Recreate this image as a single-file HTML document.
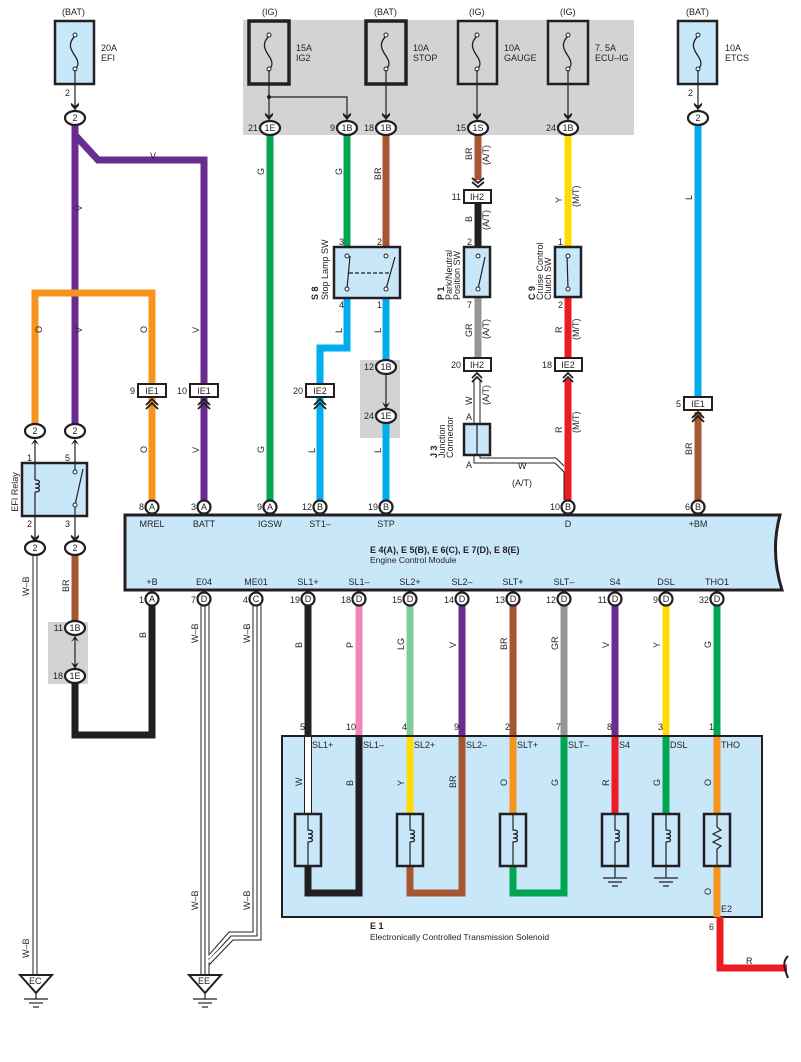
<!DOCTYPE html>
<html><head><meta charset="utf-8"><style>
html,body{margin:0;padding:0;background:#fff}
svg{display:block}
text{font-family:"Liberation Sans",sans-serif;font-size:9px;fill:#231f20}
.s{font-size:8.5px}
</style></head><body>
<svg width="801" height="1062" viewBox="0 0 801 1062" xmlns="http://www.w3.org/2000/svg">
<defs>
<marker id="ar" viewBox="0 0 10 10" refX="10" refY="5" markerWidth="8" markerHeight="8" markerUnits="userSpaceOnUse" orient="auto"><path d="M1,0 L5,5 L1,10 L4,10 L10,5 L4,0Z" fill="#231f20"/></marker>
</defs>
<rect x="243" y="20" width="391" height="115" fill="#d1d3d4"/>
<rect x="360" y="360" width="40" height="78" fill="#d1d3d4"/>
<rect x="48" y="622" width="40" height="62" fill="#d1d3d4"/>

<g stroke="#231f20" stroke-width="2.5">
<rect x="55" y="21" width="39" height="63" fill="#c8e8fa"/>
<rect x="249" y="21" width="40" height="63" fill="#d1d3d4" stroke-width="3.5"/>
<rect x="366" y="21" width="40" height="63" fill="#d1d3d4" stroke-width="3.5"/>
<rect x="458" y="21" width="39" height="63" fill="#d1d3d4"/>
<rect x="548" y="21" width="40" height="63" fill="#d1d3d4"/>
<rect x="678" y="21" width="39" height="63" fill="#c8e8fa"/>
</g>
<g fill="none" stroke="#231f20" stroke-width="1.3">
<path d="M75,36 c-8,8 -4,14 0,20 c4,6 4,10 0,13"/>
<path d="M269,36 c-8,8 -4,14 0,20 c4,6 4,10 0,13"/>
<path d="M386,36 c-8,8 -4,14 0,20 c4,6 4,10 0,13"/>
<path d="M477,36 c-8,8 -4,14 0,20 c4,6 4,10 0,13"/>
<path d="M568,36 c-8,8 -4,14 0,20 c4,6 4,10 0,13"/>
<path d="M698,36 c-8,8 -4,14 0,20 c4,6 4,10 0,13"/>
</g>
<g fill="#fff" stroke="#231f20" stroke-width="1">
<circle cx="75" cy="35" r="2"/><circle cx="75" cy="69" r="2"/>
<circle cx="269" cy="35" r="2"/><circle cx="269" cy="69" r="2"/>
<circle cx="386" cy="35" r="2"/><circle cx="386" cy="69" r="2"/>
<circle cx="477" cy="35" r="2"/><circle cx="477" cy="69" r="2"/>
<circle cx="568" cy="35" r="2"/><circle cx="568" cy="69" r="2"/>
<circle cx="698" cy="35" r="2"/><circle cx="698" cy="69" r="2"/>
</g>
<text x="62" y="15">(BAT)</text><text x="262" y="15">(IG)</text><text x="374" y="15">(BAT)</text>
<text x="469" y="15">(IG)</text><text x="560" y="15">(IG)</text><text x="686" y="15">(BAT)</text>
<text x="101" y="51">20A</text><text x="101" y="61">EFI</text>
<text x="296" y="51">15A</text><text x="296" y="61">IG2</text>
<text x="413" y="51">10A</text><text x="413" y="61">STOP</text>
<text x="504" y="51">10A</text><text x="504" y="61">GAUGE</text>
<text x="595" y="51">7. 5A</text><text x="595" y="61">ECU–IG</text>
<text x="725" y="51">10A</text><text x="725" y="61">ETCS</text>

<g stroke="#231f20" stroke-width="1.2" fill="none">
<line x1="75" y1="70" x2="75" y2="110" marker-end="url(#ar)"/>
<line x1="269" y1="70" x2="269" y2="120" marker-end="url(#ar)"/>
<polyline points="269,97 347,97 347,120" marker-end="url(#ar)"/>
<line x1="386" y1="70" x2="386" y2="120" marker-end="url(#ar)"/>
<line x1="477" y1="70" x2="477" y2="120" marker-end="url(#ar)"/>
<line x1="568" y1="70" x2="568" y2="120" marker-end="url(#ar)"/>
<line x1="698" y1="70" x2="698" y2="110" marker-end="url(#ar)"/>
</g>
<circle cx="269" cy="97" r="2" fill="#231f20"/>
<text x="65" y="96">2</text><text x="688" y="96">2</text>

<g fill="none" stroke-width="7" stroke-linejoin="miter">
<polyline stroke="#6b2c91" points="75,121 75,425"/>
<polyline stroke="#6b2c91" points="75,135 98,160 204,160 204,392"/>
<polyline stroke="#6b2c91" points="204,398 204,502"/>
<polyline stroke="#f7941d" points="35,425 35,293 152,293 152,384"/>
<polyline stroke="#f7941d" points="152,398 152,502"/>
<line stroke="#00a650" x1="270" y1="134" x2="270" y2="502"/>
<line stroke="#00a650" x1="347" y1="134" x2="347" y2="249"/>
<line stroke="#a65732" x1="386" y1="134" x2="386" y2="249"/>
<polyline stroke="#00aeef" points="347,298 347,348 320,348 320,384"/>
<line stroke="#00aeef" x1="320" y1="398" x2="320" y2="502"/>
<line stroke="#00aeef" x1="386" y1="298" x2="386" y2="361"/>
<line stroke="#00aeef" x1="386" y1="421" x2="386" y2="502"/>
<line stroke="#a65732" x1="478" y1="134" x2="478" y2="180"/>
<line stroke="#231f20" x1="478" y1="203" x2="478" y2="249"/>
<line stroke="#939598" x1="478" y1="297" x2="478" y2="358"/>
<line stroke="#ffdd00" x1="568" y1="134" x2="568" y2="249"/>
<line stroke="#ed1c24" x1="568" y1="297" x2="568" y2="358"/>
<line stroke="#ed1c24" x1="568" y1="379" x2="568" y2="502"/>
<line stroke="#00aeef" x1="698" y1="121" x2="698" y2="397"/>
<line stroke="#a65732" x1="698" y1="412" x2="698" y2="502"/>
<line stroke="#a65732" x1="75" y1="552" x2="75" y2="622"/>
<polyline stroke="#231f20" points="75,682 75,735 152,735 152,604"/>
<line stroke="#231f20" x1="308" y1="604" x2="308" y2="736"/>
<line stroke="#f287b7" x1="359" y1="604" x2="359" y2="736"/>
<line stroke="#80cc9c" x1="410" y1="604" x2="410" y2="736"/>
<line stroke="#6b2c91" x1="462" y1="604" x2="462" y2="736"/>
<line stroke="#a65732" x1="513" y1="604" x2="513" y2="736"/>
<line stroke="#939598" x1="564" y1="604" x2="564" y2="736"/>
<line stroke="#6b2c91" x1="615" y1="604" x2="615" y2="736"/>
<line stroke="#ffdd00" x1="666" y1="604" x2="666" y2="736"/>
<line stroke="#00a650" x1="717" y1="604" x2="717" y2="736"/>
</g>

<g fill="none" stroke="#231f20" stroke-width="1">
<line x1="33" y1="552" x2="33" y2="975"/><line x1="37" y1="552" x2="37" y2="975"/>
<line x1="201" y1="604" x2="201" y2="975"/><line x1="205" y1="604" x2="205" y2="975"/><line x1="209" y1="604" x2="209" y2="975"/>
<polyline points="253,604 253,932 229,932 209,955"/>
<polyline points="257,604 257,936 231,936 209,960"/>
<polyline points="261,604 261,940 233,940 209,965"/>
</g>
<g stroke="#fff" stroke-width="2" fill="none">
<line x1="35" y1="552" x2="35" y2="975"/>
<line x1="203" y1="604" x2="203" y2="975"/><line x1="207" y1="604" x2="207" y2="975"/>
<polyline points="255,604 255,934 230,934 208,958"/>
<polyline points="259,604 259,938 232,938 208,962"/>
</g>
<g stroke="#231f20" stroke-width="2" fill="#fff">
<path d="M20,975 L52,975 L36,993Z"/>
<path d="M189,975 L221,975 L205,993Z"/>
</g>
<g stroke="#231f20" stroke-width="1.2">
<line x1="36" y1="993" x2="36" y2="999"/><line x1="24" y1="999" x2="48" y2="999"/><line x1="29" y1="1003" x2="43" y2="1003"/><line x1="33" y1="1007" x2="39" y2="1007"/>
<line x1="205" y1="993" x2="205" y2="999"/><line x1="193" y1="999" x2="217" y2="999"/><line x1="198" y1="1003" x2="212" y2="1003"/><line x1="202" y1="1007" x2="208" y2="1007"/>
</g>
<text x="29" y="984">EC</text><text x="198" y="984">EE</text>

<rect x="22" y="463" width="65" height="53" fill="#c8e8fa" stroke="#231f20" stroke-width="2.5"/>
<g stroke="#231f20" stroke-width="1.2" fill="none">
<line x1="35" y1="440" x2="35" y2="463"/><line x1="75" y1="440" x2="75" y2="470"/>
<line x1="35" y1="516" x2="35" y2="542" marker-end="url(#ar)"/><line x1="75" y1="507" x2="75" y2="542" marker-end="url(#ar)"/>
<line x1="35" y1="463" x2="35" y2="480"/><path d="M35,480 c6,0 6,4 0,4 c6,0 6,4 0,4 c6,0 6,4 0,4"/><line x1="35" y1="492" x2="35" y2="516"/>
<line x1="75" y1="505" x2="83" y2="469"/>
</g>
<path d="M31,445 L35,439 L39,445 L35,442Z M71,445 L75,439 L79,445 L75,442Z" fill="#231f20"/>
<circle cx="75" cy="472" r="2" fill="#fff" stroke="#231f20"/><circle cx="75" cy="505" r="2" fill="#fff" stroke="#231f20"/>
<text x="27" y="461">1</text><text x="65" y="461">5</text><text x="27" y="527">2</text><text x="65" y="527">3</text>
<text transform="translate(18,492) rotate(-90)" text-anchor="middle">EFI Relay</text>

<g stroke="#231f20" stroke-width="1.2"><line x1="75" y1="634" x2="75" y2="670"/></g>
<path d="M71,642 L75,636 L79,642 L75,639Z M71,662 L75,669 L79,662 L75,665Z" fill="#231f20"/>
<path d="M382,374 L386,368 L390,374 L386,371Z M382,402 L386,409 L390,402 L386,405Z" fill="#231f20"/>
<line x1="386" y1="370" x2="386" y2="408" stroke="#231f20" stroke-width="1.2"/>

<g fill="#fff" stroke="#231f20" stroke-width="2.2">
<ellipse cx="75" cy="118" rx="10" ry="7"/>
<ellipse cx="698" cy="118" rx="10" ry="7"/>
<ellipse cx="270" cy="128" rx="10" ry="7"/>
<ellipse cx="347" cy="128" rx="10" ry="7"/>
<ellipse cx="386" cy="128" rx="10" ry="7"/>
<ellipse cx="478" cy="128" rx="10" ry="7"/>
<ellipse cx="568" cy="128" rx="10" ry="7"/>
<ellipse cx="386" cy="367" rx="10" ry="7"/>
<ellipse cx="386" cy="416" rx="10" ry="7"/>
<ellipse cx="35" cy="431" rx="10" ry="7"/>
<ellipse cx="75" cy="431" rx="10" ry="7"/>
<ellipse cx="35" cy="548" rx="10" ry="7"/>
<ellipse cx="75" cy="548" rx="10" ry="7"/>
<ellipse cx="75" cy="628" rx="10" ry="7"/>
<ellipse cx="75" cy="676" rx="10" ry="7"/>
</g>
<g text-anchor="middle" class="s">
<text x="75" y="121">2</text><text x="698" y="121">2</text>
<text x="270" y="131">1E</text><text x="347" y="131">1B</text><text x="386" y="131">1B</text>
<text x="478" y="131">1S</text><text x="568" y="131">1B</text>
<text x="386" y="370">1B</text><text x="386" y="419">1E</text>
<text x="35" y="434">2</text><text x="75" y="434">2</text><text x="35" y="551">2</text><text x="75" y="551">2</text>
<text x="75" y="631">1B</text><text x="75" y="679">1E</text>
</g>
<g text-anchor="end" class="s">
<text x="258" y="131">21</text><text x="335" y="131">9</text><text x="374" y="131">18</text>
<text x="466" y="131">15</text><text x="556" y="131">24</text>
<text x="374" y="370">12</text><text x="374" y="419">24</text>
<text x="63" y="631">11</text><text x="63" y="679">18</text>
</g>

<g fill="#c8e8fa" stroke="#231f20" stroke-width="2.5">
<rect x="334" y="247" width="66" height="51"/>
<rect x="464" y="247" width="26" height="50"/>
<rect x="555" y="247" width="26" height="50"/>
<rect x="464" y="424" width="26" height="31"/>
</g>
<g stroke="#231f20" stroke-width="1.2" fill="none">
<line x1="347" y1="289" x2="350" y2="256"/><line x1="386" y1="289" x2="395" y2="257"/>
<line x1="349" y1="273" x2="391" y2="273" stroke-dasharray="4,2"/>
<line x1="478" y1="289" x2="485" y2="257"/>
<line x1="568" y1="289" x2="567" y2="254"/>
<line x1="477" y1="424" x2="477" y2="455"/>
</g>
<g fill="#fff" stroke="#231f20" stroke-width="1">
<circle cx="347" cy="256" r="2"/><circle cx="347" cy="289" r="2"/><circle cx="386" cy="256" r="2"/><circle cx="386" cy="289" r="2"/>
<circle cx="478" cy="256" r="2"/><circle cx="478" cy="289" r="2"/>
<circle cx="568" cy="256" r="2"/><circle cx="568" cy="289" r="2"/>
</g>
<text x="339" y="245">3</text><text x="377" y="245">2</text><text x="339" y="308">4</text><text x="377" y="308">1</text>
<text x="467" y="245">2</text><text x="467" y="308">7</text><text x="558" y="245">1</text><text x="558" y="308">2</text>
<text transform="translate(318,300) rotate(-90)" font-weight="bold">S 8</text>
<text transform="translate(328,300) rotate(-90)">Stop Lamp SW</text>
<text transform="translate(444,300) rotate(-90)" font-weight="bold">P 1</text>
<text transform="translate(452,300) rotate(-90)">Park/Neutral</text>
<text transform="translate(460,300) rotate(-90)">Position SW</text>
<text transform="translate(535,300) rotate(-90)" font-weight="bold">C 9</text>
<text transform="translate(543,300) rotate(-90)">Cruise Control</text>
<text transform="translate(551,300) rotate(-90)">Clutch SW</text>
<text transform="translate(437,458) rotate(-90)" font-weight="bold">J 3</text>
<text transform="translate(445,458) rotate(-90)">Junction</text>
<text transform="translate(453,458) rotate(-90)">Connector</text>
<text x="466" y="420">A</text><text x="466" y="468">A</text>

<g fill="none" stroke="#231f20" stroke-width="1">
<polyline points="474,381 474,424"/><polyline points="480,381 480,424"/>
<polyline points="474,455 474,463 555,463 564,472 564,500"/>
<polyline points="480,455 480,458 556,458 564,466"/>
</g>
<text x="518" y="469">W</text><text x="512" y="486">(A/T)</text>

<g fill="#fff" stroke="#231f20" stroke-width="2">
<rect x="138" y="384" width="28" height="13"/><rect x="190" y="384" width="28" height="13"/>
<rect x="306" y="384" width="28" height="13"/>
<rect x="464" y="190" width="27" height="13"/><rect x="464" y="358" width="27" height="13"/>
<rect x="555" y="358" width="27" height="13"/><rect x="684" y="397" width="28" height="13"/>
</g>
<g text-anchor="middle" class="s">
<text x="152" y="394">IE1</text><text x="204" y="394">IE1</text><text x="320" y="394">IE2</text>
<text x="477" y="200">IH2</text><text x="477" y="368">IH2</text><text x="568" y="368">IE2</text><text x="698" y="407">IE1</text>
</g>
<g text-anchor="end" class="s">
<text x="135" y="394">9</text><text x="187" y="394">10</text><text x="303" y="394">20</text>
<text x="461" y="200">11</text><text x="461" y="368">20</text><text x="552" y="368">18</text><text x="681" y="407">5</text>
</g>
<g fill="none" stroke="#231f20" stroke-width="1.8">
<path d="M146,405 L152,399 L158,405 M146,409 L152,403 L158,409"/>
<path d="M198,405 L204,399 L210,405 M198,409 L204,403 L210,409"/>
<path d="M314,405 L320,399 L326,405 M314,409 L320,403 L326,409"/>
<path d="M472,378 L477,373 L482,378 M472,382 L477,377 L482,382"/>
<path d="M563,378 L568,373 L573,378 M563,382 L568,377 L573,382"/>
<path d="M692,418 L698,412 L704,418 M692,422 L698,416 L704,422"/>
<path d="M472,178 L478,183 L484,178 M472,182 L478,187 L484,182"/>
</g>

<path d="M125,515 L780,515 Q770,552 782,590 L125,590Z" fill="#c8e8fa" stroke="#231f20" stroke-width="3"/>
<text x="370" y="553" font-weight="bold">E 4(A), E 5(B), E 6(C), E 7(D), E 8(E)</text>
<text x="370" y="563" class="s">Engine Control Module</text>
<g text-anchor="middle" class="s">
<text x="152" y="527">MREL</text><text x="204" y="527">BATT</text><text x="270" y="527">IGSW</text>
<text x="320" y="527">ST1–</text><text x="386" y="527">STP</text><text x="568" y="527">D</text><text x="698" y="527">+BM</text>
<text x="152" y="585">+B</text><text x="204" y="585">E04</text><text x="256" y="585">ME01</text>
<text x="308" y="585">SL1+</text><text x="359" y="585">SL1–</text><text x="410" y="585">SL2+</text><text x="462" y="585">SL2–</text>
<text x="513" y="585">SLT+</text><text x="564" y="585">SLT–</text><text x="615" y="585">S4</text><text x="666" y="585">DSL</text><text x="717" y="585">THO1</text>
</g>
<g fill="#fff" stroke="#231f20" stroke-width="2.2">
<circle cx="152" cy="507" r="6.5"/><circle cx="204" cy="507" r="6.5"/><circle cx="270" cy="507" r="6.5"/>
<circle cx="320" cy="507" r="6.5"/><circle cx="386" cy="507" r="6.5"/><circle cx="568" cy="507" r="6.5"/><circle cx="698" cy="507" r="6.5"/>
<circle cx="152" cy="599" r="6.5"/><circle cx="204" cy="599" r="6.5"/><circle cx="256" cy="599" r="6.5"/>
<circle cx="308" cy="599" r="6.5"/><circle cx="359" cy="599" r="6.5"/><circle cx="410" cy="599" r="6.5"/><circle cx="462" cy="599" r="6.5"/>
<circle cx="513" cy="599" r="6.5"/><circle cx="564" cy="599" r="6.5"/><circle cx="615" cy="599" r="6.5"/><circle cx="666" cy="599" r="6.5"/><circle cx="717" cy="599" r="6.5"/>
</g>
<g text-anchor="middle" class="s">
<text x="152" y="510">A</text><text x="204" y="510">A</text><text x="270" y="510">A</text><text x="320" y="510">B</text><text x="386" y="510">B</text><text x="568" y="510">B</text><text x="698" y="510">B</text>
<text x="152" y="602">A</text><text x="204" y="602">D</text><text x="256" y="602">C</text>
<text x="308" y="602">D</text><text x="359" y="602">D</text><text x="410" y="602">D</text><text x="462" y="602">D</text><text x="513" y="602">D</text><text x="564" y="602">D</text><text x="615" y="602">D</text><text x="666" y="602">D</text><text x="717" y="602">D</text>
</g>
<g text-anchor="end" class="s">
<text x="144" y="510">8</text><text x="196" y="510">3</text><text x="262" y="510">9</text><text x="312" y="510">12</text><text x="378" y="510">19</text><text x="560" y="510">10</text><text x="690" y="510">6</text>
<text x="144" y="603">1</text><text x="196" y="603">7</text><text x="248" y="603">4</text>
<text x="300" y="603">19</text><text x="351" y="603">18</text><text x="402" y="603">15</text><text x="454" y="603">14</text><text x="505" y="603">13</text><text x="556" y="603">12</text><text x="607" y="603">11</text><text x="658" y="603">9</text><text x="709" y="603">32</text>
</g>

<rect x="282" y="736" width="480" height="181" fill="#c8e8fa" stroke="#231f20" stroke-width="2"/>
<g fill="none" stroke-width="7">
<line stroke="#fff" x1="308" y1="737" x2="308" y2="814"/>
<polyline stroke="#231f20" points="308,866 308,893 359,893 359,737"/>
<line stroke="#ffdd00" x1="410" y1="737" x2="410" y2="814"/>
<polyline stroke="#a65732" points="410,866 410,893 462,893 462,737"/>
<line stroke="#f7941d" x1="513" y1="737" x2="513" y2="814"/>
<polyline stroke="#00a650" points="513,866 513,893 564,893 564,737"/>
<line stroke="#ed1c24" x1="615" y1="737" x2="615" y2="814"/>
<line stroke="#00a650" x1="666" y1="737" x2="666" y2="814"/>
<line stroke="#f7941d" x1="717" y1="737" x2="717" y2="917"/>
<polyline stroke="#ed1c24" points="720,917 720,968 787,968" stroke-linejoin="miter"/>
</g>
<line x1="304.5" y1="737" x2="304.5" y2="814" stroke="#231f20"/><line x1="311.5" y1="737" x2="311.5" y2="814" stroke="#231f20"/>
<path d="M788,956 c-6,6 -4,12 0,22" fill="none" stroke="#231f20" stroke-width="2"/>
<text x="746" y="964">R</text>
<g fill="#c8e8fa" stroke="#231f20" stroke-width="2.5">
<rect x="295" y="814" width="26" height="52"/><rect x="397" y="814" width="26" height="52"/>
<rect x="500" y="814" width="26" height="52"/><rect x="602" y="814" width="26" height="52"/>
<rect x="653" y="814" width="26" height="52"/><rect x="704" y="814" width="26" height="52"/>
</g>
<g fill="none" stroke="#231f20" stroke-width="1.2">
<path d="M308,814 V830 c6,0 6,4 0,4 c6,0 6,4 0,4 c6,0 6,4 0,4 V866"/>
<path d="M410,814 V830 c6,0 6,4 0,4 c6,0 6,4 0,4 c6,0 6,4 0,4 V866"/>
<path d="M513,814 V830 c6,0 6,4 0,4 c6,0 6,4 0,4 c6,0 6,4 0,4 V866"/>
<path d="M615,814 V830 c6,0 6,4 0,4 c6,0 6,4 0,4 c6,0 6,4 0,4 V866"/>
<path d="M666,814 V830 c6,0 6,4 0,4 c6,0 6,4 0,4 c6,0 6,4 0,4 V866"/>
<path d="M717,814 V827 l4,3 -8,4 8,4 -8,4 8,4 -4,3 V866"/>
<path d="M615,866 V878 M603,878 H627 M608,882 H622 M612,886 H618"/>
<path d="M666,866 V878 M654,878 H678 M659,882 H673 M663,886 H669"/>
</g>
<g class="s">
<text x="312" y="748">SL1+</text><text x="363" y="748">SL1–</text><text x="414" y="748">SL2+</text><text x="466" y="748">SL2–</text>
<text x="517" y="748">SLT+</text><text x="568" y="748">SLT–</text><text x="619" y="748">S4</text><text x="670" y="748">DSL</text><text x="721" y="748">THO</text>
<text x="721" y="912">E2</text><text x="709" y="930">6</text>
</g>
<g text-anchor="end" class="s">
<text x="305" y="730">5</text><text x="356" y="730">10</text><text x="407" y="730">4</text><text x="459" y="730">9</text><text x="510" y="730">2</text><text x="561" y="730">7</text><text x="612" y="730">8</text><text x="663" y="730">3</text><text x="714" y="730">1</text>
</g>
<text x="370" y="929" font-weight="bold">E 1</text>
<text x="370" y="940" class="s">Electronically Controlled Transmission Solenoid</text>

<g class="s">
<text transform="translate(82,211) rotate(-90)">V</text>
<text x="150" y="159">V</text>
<text transform="translate(42,333) rotate(-90)">O</text>
<text transform="translate(82,333) rotate(-90)">V</text>
<text transform="translate(147,333) rotate(-90)">O</text>
<text transform="translate(199,333) rotate(-90)">V</text>
<text transform="translate(147,453) rotate(-90)">O</text>
<text transform="translate(199,453) rotate(-90)">V</text>
<text transform="translate(264,175) rotate(-90)">G</text>
<text transform="translate(264,453) rotate(-90)">G</text>
<text transform="translate(342,175) rotate(-90)">G</text>
<text transform="translate(381,180) rotate(-90)">BR</text>
<text transform="translate(342,333) rotate(-90)">L</text>
<text transform="translate(381,333) rotate(-90)">L</text>
<text transform="translate(315,453) rotate(-90)">L</text>
<text transform="translate(381,453) rotate(-90)">L</text>
<text transform="translate(472,160) rotate(-90)">BR</text>
<text transform="translate(489,165) rotate(-90)">(A/T)</text>
<text transform="translate(472,222) rotate(-90)">B</text>
<text transform="translate(489,230) rotate(-90)">(A/T)</text>
<text transform="translate(472,337) rotate(-90)">GR</text>
<text transform="translate(489,339) rotate(-90)">(A/T)</text>
<text transform="translate(472,405) rotate(-90)">W</text>
<text transform="translate(489,405) rotate(-90)">(A/T)</text>
<text transform="translate(562,203) rotate(-90)">Y</text>
<text transform="translate(579,207) rotate(-90)">(M/T)</text>
<text transform="translate(562,333) rotate(-90)">R</text>
<text transform="translate(579,340) rotate(-90)">(M/T)</text>
<text transform="translate(562,433) rotate(-90)">R</text>
<text transform="translate(579,433) rotate(-90)">(M/T)</text>
<text transform="translate(692,200) rotate(-90)">L</text>
<text transform="translate(692,455) rotate(-90)">BR</text>
<text transform="translate(29,596) rotate(-90)">W–B</text>
<text transform="translate(29,958) rotate(-90)">W–B</text>
<text transform="translate(69,592) rotate(-90)">BR</text>
<text transform="translate(146,638) rotate(-90)">B</text>
<text transform="translate(198,643) rotate(-90)">W–B</text>
<text transform="translate(250,643) rotate(-90)">W–B</text>
<text transform="translate(198,910) rotate(-90)">W–B</text>
<text transform="translate(250,910) rotate(-90)">W–B</text>
<text transform="translate(302,648) rotate(-90)">B</text>
<text transform="translate(353,648) rotate(-90)">P</text>
<text transform="translate(404,650) rotate(-90)">LG</text>
<text transform="translate(456,648) rotate(-90)">V</text>
<text transform="translate(507,650) rotate(-90)">BR</text>
<text transform="translate(558,650) rotate(-90)">GR</text>
<text transform="translate(609,648) rotate(-90)">V</text>
<text transform="translate(660,648) rotate(-90)">Y</text>
<text transform="translate(711,648) rotate(-90)">G</text>
<text transform="translate(302,786) rotate(-90)">W</text>
<text transform="translate(353,786) rotate(-90)">B</text>
<text transform="translate(404,786) rotate(-90)">Y</text>
<text transform="translate(456,788) rotate(-90)">BR</text>
<text transform="translate(507,786) rotate(-90)">O</text>
<text transform="translate(558,786) rotate(-90)">G</text>
<text transform="translate(609,786) rotate(-90)">R</text>
<text transform="translate(660,786) rotate(-90)">G</text>
<text transform="translate(711,786) rotate(-90)">O</text>
<text transform="translate(711,895) rotate(-90)">O</text>
</g>
</svg>
</body></html>
